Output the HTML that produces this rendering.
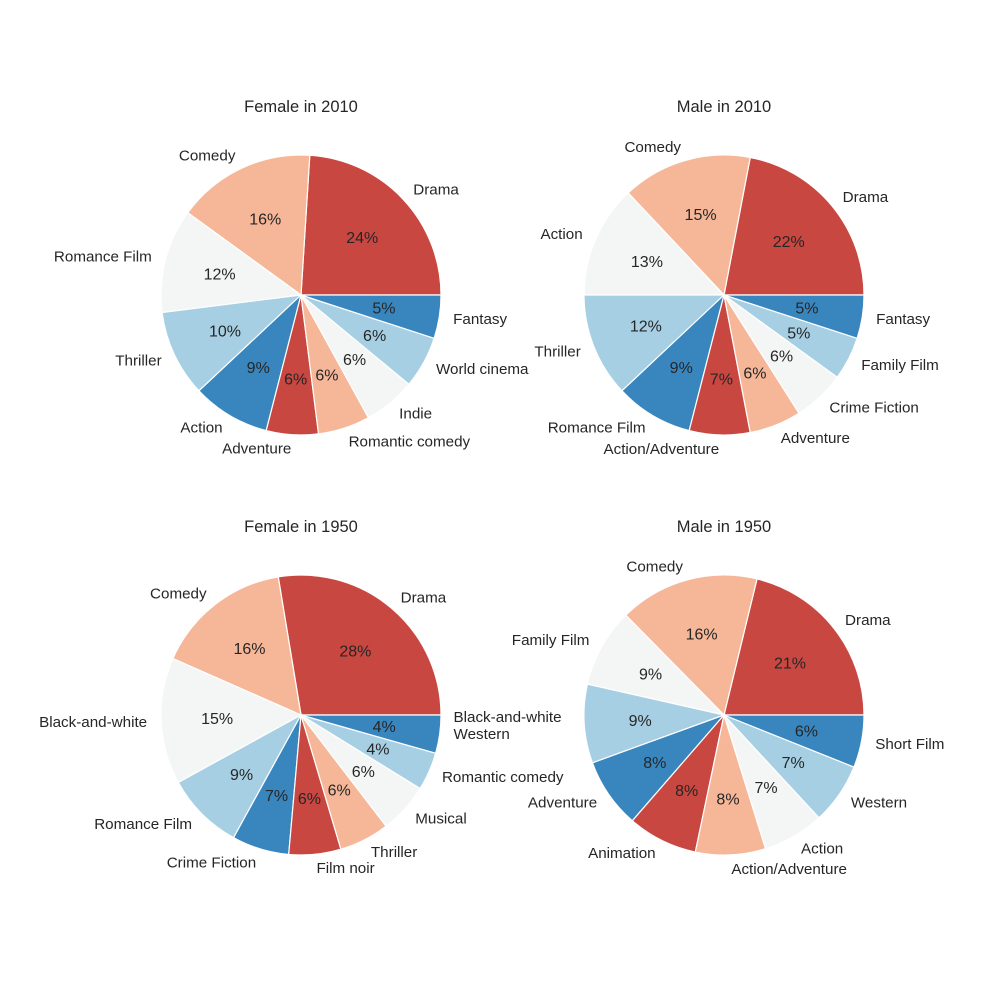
<!DOCTYPE html>
<html><head><meta charset="utf-8"><style>
html,body{margin:0;padding:0;background:#fff}
svg text{font-family:"Liberation Sans","DejaVu Sans",sans-serif;fill:#262626}
</style></head><body>
<svg id="chart" width="1000" height="1000" viewBox="0 0 1000 1000" xmlns="http://www.w3.org/2000/svg"></svg>
<script>
const titles = ["Female in 2010","Male in 2010","Female in 1950","Male in 1950"];
const catsF2010 = ["Drama","Comedy","Romance Film","Thriller","Action","Adventure","Romantic comedy","Indie","World cinema","Fantasy"];
const valsF2010 = [24,16,12,10,9,6,6,6,6,5];
const catsM2010 = ["Drama","Comedy","Action","Thriller","Romance Film","Action/Adventure","Adventure","Crime Fiction","Family Film","Fantasy"];
const valsM2010 = [22,15,13,12,9,7,6,6,5,5];
const catsF1950 = ["Drama","Comedy","Black-and-white","Romance Film","Crime Fiction","Film noir","Thriller","Musical","Romantic comedy","Black-and-white\nWestern"];
const valsF1950 = [27.6,15.8,14.6,9,6.6,6,5.8,5.8,4.4,4.4];
const catsM1950 = ["Drama","Comedy","Family Film","","Adventure","Animation","Action/Adventure","Action","Western","Short Film"];
const valsM1950 = [21,16,9,9,8,8,8,7,7,6];
const colors = ["#c94741","#f6b799","#f4f5f5","#a7cfe4","#3986bf"];
const NS="http://www.w3.org/2000/svg";
const svg=document.getElementById('chart');
function mk(tag,attrs){const e=document.createElementNS(NS,tag);for(const k in attrs)e.setAttribute(k,attrs[k]);return e;}
function drawPie(cx,cy,r,title,cats,vals,key){
  const g=mk('g',{});
  
  
  svg.appendChild(g);
  const t=mk('text',{x:cx,y:cy-189+6,'text-anchor':'middle','font-size':'16.5'});
  
  
  t.textContent=title;g.appendChild(t);
  const tot=vals.reduce((a,b)=>a+b,0);
  let a0=0;
  vals.forEach((v,i)=>{
    const a1=a0+v/tot*2*Math.PI;
    const x0=cx+r*Math.cos(a0),y0=cy-r*Math.sin(a0),x1=cx+r*Math.cos(a1),y1=cy-r*Math.sin(a1);
    const large=(a1-a0)>Math.PI?1:0;
    const p=mk('path',{d:`M${cx},${cy}L${x0},${y0}A${r},${r} 0 ${large} 0 ${x1},${y1}Z`,fill:colors[i%5],stroke:'#fff','stroke-width':'1.2'});
    
    
    g.appendChild(p);
    const am=(a0+a1)/2, c=Math.cos(am), s=Math.sin(am);
    const pt=mk('text',{x:cx+0.6*r*c,y:cy-0.6*r*s+5.5,'text-anchor':'middle','font-size':'16'});
    
    
    pt.textContent=Math.round(v/tot*100)+'%';g.appendChild(pt);
    const lines=cats[i].split('\n');
    if(cats[i]){
      const lt=mk('text',{x:cx+1.1*r*c,y:cy-1.1*r*s+5-(lines.length-1)*19,'text-anchor':c>=0?'start':'end','font-size':'15.2'});
      
      
      lines.forEach((ln,j)=>{const ts=mk('tspan',{x:cx+1.1*r*c,dy:j?17:0});ts.textContent=ln;lt.appendChild(ts);});
      g.appendChild(lt);
    }
    a0=a1;
  });
}
drawPie(301,295,140,titles[0],catsF2010,valsF2010,'female-2010');
drawPie(724,295,140,titles[1],catsM2010,valsM2010,'male-2010');
drawPie(301,715,140,titles[2],catsF1950,valsF1950,'female-1950');
drawPie(724,715,140,titles[3],catsM1950,valsM1950,'male-1950');
</script>
</body></html>
